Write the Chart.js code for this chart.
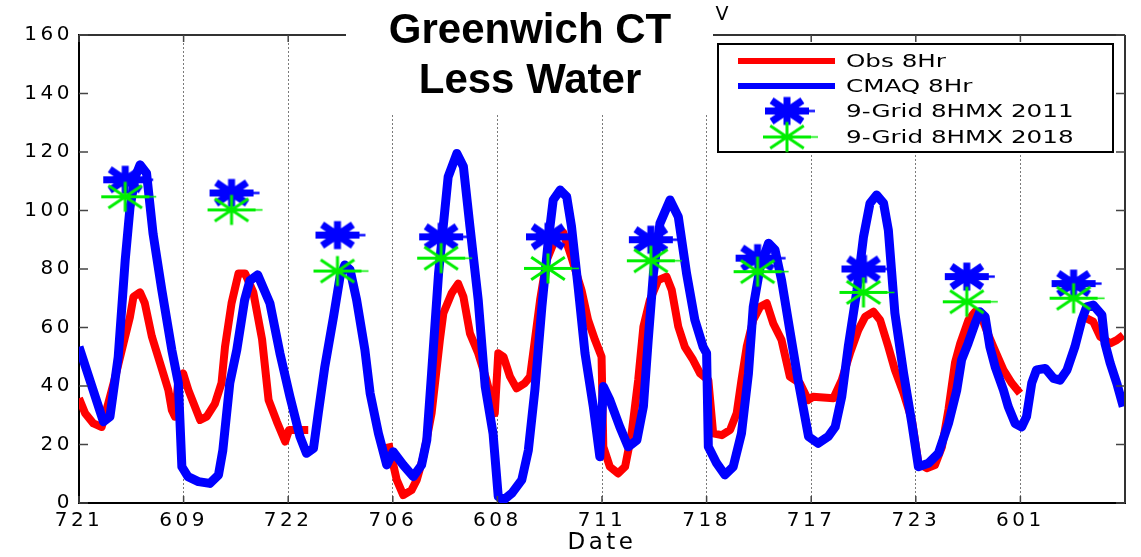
<!DOCTYPE html>
<html>
<head>
<meta charset="utf-8">
<script src="https://cdn.jsdelivr.net/npm/chart.js@4"></script>
<style>
  body { margin: 0; background: #fff; }
  #chart { display: block; }
</style>
</head>
<body>
<canvas id="chart" width="1141" height="557"></canvas>
<script>
// day labels on the x axis (each day = 24 hours)
const dateLabels = ['721', '609', '722', '706', '608', '711', '718', '717', '723', '601'];

// observed 8-hr ozone (null = missing data)
const obsHours = [0, 1.4, 3.3, 5.2, 6.7, 8.3, 10.2, 11.7, 12.5, 14, 15.1, 16.7, 18.6, 20.5, 21.3, 22, 22.8, 23.9, 25.1, 27.8,
  29.3, 31.2, 32.7, 33.5, 35, 36.6, 38.1, 40, 42, 43.5, 45.4, 47.3, 48.2, 52.6, 53,
  71, 72.9, 74.4, 76.3, 77.5, 79, 80.9, 82.8, 83.6, 85.5, 87, 88.2, 89.7, 91.6, 93.5, 95.4, 96.2, 97.4, 98.9,
  100.4, 102.3, 103.5, 104.6, 105.8, 107.3, 109.2, 111.1, 113, 115.3, 116.8, 118.4, 119.9, 120.3, 121.8, 123.7,
  125.3, 126.8, 128.3, 129.5, 131, 132.9, 134.8, 136, 137.5, 139, 140.9, 142.5, 144.4, 145.5, 147.5, 149.4,
  150.9, 152, 153.2, 154.7, 156.3, 157.8, 159.3, 161.2, 163.1, 165.4, 167.3, 168.4, 173.1, 175, 176.9, 178.8,
  180.4, 182.3, 183.8, 185.7, 187.2, 189.2, 191.1, 192.6, 194.5, 196.4, 198, 199.5, 201, 202.2, 204.1, 205.6,
  207, 208.5, 209.8, 212.1, 214, 215.9, 216.5,
  231.2, 232.7, 234.3, 236.6, 238.1, 239.6];
const obsValues = [35.8, 30.7, 27.2, 26, 34, 43, 54.6, 63.7, 70.5, 72, 68.3, 57, 47.8, 38.6, 31.8, 29.5, 42, 44.3, 38.6, 28.4,
  29.5, 34, 41, 53.4, 68.3, 78.5, 78.5, 72, 56, 35.2, 27.8, 21, 25, 25, null,
  20.4, 7.9, 2.7, 4.4, 7.9, 15.8, 30.7, 55.7, 64.9, 71.7, 75, 70.5, 58, 51.2, 42, 30.7, 51.2, 50, 43.2,
  39.2, 41, 43.2, 55.7, 69.4, 83, 90, 92.5, 84, 72.8, 62.6, 55.7, 50, 19.2, 12.4, 10.1,
  12.4, 23.8, 42, 60.3, 69.4, 76.2, 77.4, 72.8, 60.3, 53.4, 48.9, 44.3, 42, 23.8, 23.2, 25,
  30.7, 42, 53.4, 62.6, 67.1, 68.3, 61.4, 55.7, 43.2, 41, 35.2, 36.3, 35.8, 42, 51.2, 59.1,
  63.7, 65.4, 62.6, 53.4, 45.5, 37.5, 28.4, 13.6, 11.9, 13, 19.2, 32, 48, 54.6, 62.6, 65.4,
  64, 58, 53.4, 45.5, 41, 37.5, null,
  63.1, 62, 56.9, 54.6, 55.7, 57.4];

// CMAQ modelled 8-hr ozone
const cmaqHours = [0, 5.6, 7.1, 9, 10.6, 11.7, 12.9, 14, 15.5, 17, 19, 21.3, 22.8, 23.6, 25, 27.4, 30, 32, 33, 34.6,
  36.2, 38, 39.2, 41, 43.8, 46.1, 48.4, 50.7, 52.2, 53.8, 54.9, 56.4, 58.4, 59.9, 61, 62.2, 63.7, 65.6, 66.8, 68.7,
  70.6, 72.1, 74.4, 76.7, 78.6, 79.8, 80.9, 82.5, 84.7, 86.7, 88.2, 89.7, 91.6, 93.2, 95, 96.2, 97.4, 99.3, 101.6, 103.1,
  104.6, 106.2, 107.7, 108.8, 110.4, 111.9, 113, 114.6, 116.1, 118, 119.5, 120.3, 121.8, 124.1, 126, 128, 129.5, 130.6,
  131.8, 133.3, 135.6, 137.5, 139.4, 141.3, 143.2, 144, 144.4, 146.3, 148.2, 150.1, 152, 153.6, 154.7, 156.3, 158.2,
  159.7, 161.2, 163.1, 165, 167.4, 169.6, 171.9, 173.5, 175, 176.5, 178.5, 180, 181.5, 183, 184.6, 185.7, 187.2,
  189.2, 191.1, 192.6, 194.9, 197.2, 199.5, 201.4, 202.5, 204, 205.6, 206.7, 207.9, 209, 210.2, 212.1, 213.2, 214.8,
  216.3, 217.4, 218.6, 219.7, 221.7, 223.6, 225.1, 226.7, 228.5, 230.1, 231.2, 232.7, 234.7, 235.4, 236.6, 238.1, 239.6];
const cmaqValues = [53.4, 27.8, 29.5, 50, 83, 101, 111.5, 115.6, 112.7, 92, 72.8, 52.3, 41, 12.4, 9, 7.3, 6.7, 9.6, 18, 41,
  52.3, 69.4, 76, 78, 68.3, 51.2, 36.3, 22.7, 17, 18.7, 30.7, 46.6, 63.7, 77.4, 81.4, 79.7, 69.4, 52.3, 37.5, 23.8,
  13, 17.5, 13, 9, 13, 21.5, 44.3, 78.5, 111.5, 119.5, 115, 94.5, 69.4, 39.8, 23.8, 2.2, 1, 3.3, 7.9, 18,
  38.6, 67, 90, 103.6, 107, 104.7, 94.5, 72.8, 51.2, 33, 15.8, 39.8, 35.2, 26, 19.2, 21.5, 33, 55.7,
  78.5, 95.6, 103.6, 97.9, 78.5, 62.6, 53.4, 51.2, 19.2, 13.6, 9.6, 12.4, 23.8, 44.3, 67, 80.8, 88.8,
  86.5, 76.2, 59, 42, 22.7, 20.4, 22.7, 26, 36.3, 53.4, 72.8, 91, 102.5, 105.3, 102.5, 93.3, 64.9,
  44.3, 27.2, 12.4, 13.6, 17, 27.2, 38.6, 48.9, 54.6, 61.4, 65.4, 63.7, 53.4, 46.6, 38.6, 33, 27.2,
  26, 29.5, 41, 45.5, 46, 42.6, 42, 45.5, 53.4, 62.6, 67.1, 67.7, 64.3, 54.6, 47.8, 41, 33];

// daily 9-grid 8-hr max values
const markerHours = [10.6, 35, 59.3, 83.1, 107.6, 131.2, 155.7, 180, 203.7, 228.2];
const grid2011 = [110.5, 106, 91.6, 91, 91, 90, 83.7, 80, 77.4, 75];
const grid2018 = [104.7, 100.2, 79.3, 83.7, 80.2, 82.8, 79.1, 72, 68.8, 70];

const toPoints = (xs, ys) => xs.map((x, i) => ({ x: x, y: ys[i] }));

// MATLAB-like asterisk marker drawn on a small canvas
function makeStar(color, halfW, halfH, lw, tail) {
  const c = document.createElement('canvas');
  c.width = 2 * (halfW + tail) + 2;
  c.height = 2 * halfH + lw + 2;
  const g = c.getContext('2d');
  g.translate(c.width / 2, c.height / 2);
  g.strokeStyle = color;
  g.lineWidth = lw;
  g.beginPath();
  g.moveTo(-halfW, 0); g.lineTo(halfW, 0);
  g.moveTo(0, -halfH); g.lineTo(0, halfH);
  g.moveTo(-0.7 * halfW, -0.75 * halfH); g.lineTo(0.7 * halfW, 0.75 * halfH);
  g.moveTo(-0.7 * halfW, 0.75 * halfH); g.lineTo(0.7 * halfW, -0.75 * halfH);
  g.stroke();
  g.lineWidth = Math.max(1.5, lw / 3);
  g.beginPath();
  g.moveTo(halfW, 0); g.lineTo(halfW + tail, 0);
  g.stroke();
  return c;
}
const blueStar = makeStar('#0000ff', 22, 14, 7, 6);
const greenStar = makeStar('#00ee00', 24, 15, 3, 7);

const stretchText = (ctx, text, x, y, sx) => {
  ctx.save();
  ctx.translate(x, y);
  ctx.scale(sx, 1);
  ctx.fillText(text, 0, 0);
  ctx.restore();
};

const decorations = {
  id: 'decorations',
  beforeDraw(chart) {
    chart.ctx.letterSpacing = '3.5px';
  },
  beforeDatasetsDraw(chart) {
    chart.ctx.letterSpacing = '0px';
  },
  afterDraw(chart) {
    const ctx = chart.ctx;
    const a = chart.chartArea;
    const xs = chart.scales.x, ys = chart.scales.y;
    ctx.save();
    ctx.letterSpacing = '0px';

    // top and right box edges
    ctx.strokeStyle = '#333';
    ctx.lineWidth = 2;
    ctx.beginPath();
    ctx.moveTo(a.left, a.top); ctx.lineTo(a.right, a.top);
    ctx.moveTo(a.right, a.top); ctx.lineTo(a.right, a.bottom);
    ctx.stroke();

    // inward tick marks
    ctx.lineWidth = 1.5;
    ctx.strokeStyle = '#444';
    ctx.beginPath();
    ys.ticks.forEach(t => {
      const y = ys.getPixelForValue(t.value);
      ctx.moveTo(a.left, y); ctx.lineTo(a.left + 9, y);
      ctx.moveTo(a.right, y); ctx.lineTo(a.right - 9, y);
    });
    xs.ticks.forEach(t => {
      const x = xs.getPixelForValue(t.value);
      ctx.moveTo(x, a.bottom); ctx.lineTo(x, a.bottom - 7);
      ctx.moveTo(x, a.top); ctx.lineTo(x, a.top + 7);
    });
    ctx.stroke();

    // title block pasted over the plot
    ctx.fillStyle = '#fff';
    ctx.fillRect(346, 0, 367, 113);
    ctx.fillStyle = '#000';
    ctx.font = 'bold 42px "Liberation Sans", Arial, sans-serif';
    ctx.textAlign = 'center';
    ctx.textBaseline = 'alphabetic';
    ctx.fillText('Greenwich CT', 530, 43);
    ctx.fillText('Less Water', 530, 93);
    ctx.font = '19px "DejaVu Sans", sans-serif';
    ctx.fillText('V', 722, 20);

    // legend
    const lx = 718, ly = 44, lw = 395, lh = 108;
    ctx.fillStyle = '#fff';
    ctx.fillRect(lx, ly, lw, lh);
    ctx.strokeStyle = '#000';
    ctx.lineWidth = 2;
    ctx.strokeRect(lx, ly, lw, lh);
    const rows = [
      { text: 'Obs 8Hr', line: '#ff0000', y: 61 },
      { text: 'CMAQ 8Hr', line: '#0000ff', y: 86 },
      { text: '9-Grid 8HMX 2011', star: blueStar, y: 111 },
      { text: '9-Grid 8HMX 2018', star: greenStar, y: 137 }
    ];
    ctx.font = '18.5px "DejaVu Sans", sans-serif';
    ctx.textAlign = 'left';
    ctx.textBaseline = 'middle';
    rows.forEach(r => {
      if (r.line) {
        ctx.strokeStyle = r.line;
        ctx.lineWidth = 6;
        ctx.beginPath();
        ctx.moveTo(738, r.y); ctx.lineTo(835, r.y);
        ctx.stroke();
      } else {
        ctx.drawImage(r.star, 787 - r.star.width / 2, r.y - r.star.height / 2);
      }
      ctx.fillStyle = '#000';
      stretchText(ctx, r.text, 846, r.y + 1, 1.33);
    });
    ctx.restore();
  }
};

const tickFont = { family: '"DejaVu Sans", sans-serif', size: 20 };

new Chart(document.getElementById('chart'), {
  type: 'line',
  data: {
    datasets: [
      {
        label: '9-Grid 8HMX 2018',
        data: toPoints(markerHours, grid2018),
        showLine: false,
        pointStyle: greenStar,
        pointRadius: 12,
        borderColor: '#00ee00',
        backgroundColor: '#00ee00'
      },
      {
        label: '9-Grid 8HMX 2011',
        data: toPoints(markerHours, grid2011),
        showLine: false,
        pointStyle: blueStar,
        pointRadius: 12,
        borderColor: '#0000ff',
        backgroundColor: '#0000ff'
      },
      {
        label: 'CMAQ 8Hr',
        data: toPoints(cmaqHours, cmaqValues),
        borderColor: '#0000ff',
        borderWidth: 9,
        pointRadius: 0,
        tension: 0,
        borderJoinStyle: 'round'
      },
      {
        label: 'Obs 8Hr',
        data: toPoints(obsHours, obsValues),
        borderColor: '#ff0000',
        borderWidth: 8,
        pointRadius: 0,
        tension: 0,
        spanGaps: false,
        borderJoinStyle: 'round'
      }
    ]
  },
  options: {
    responsive: false,
    animation: false,
    devicePixelRatio: 1,
    layout: { padding: { top: 35, right: 16, left: 0, bottom: 0 } },
    plugins: {
      legend: { display: false },
      title: { display: false },
      tooltip: { enabled: false }
    },
    scales: {
      x: {
        type: 'linear',
        min: 0,
        max: 240,
        afterBuildTicks: (scale) => {
          scale.ticks = dateLabels.map((d, i) => ({ value: i * 24 }));
        },
        afterFit: (scale) => { scale.height = 54; },
        ticks: {
          font: tickFont,
          color: '#000',
          padding: 6,
          maxRotation: 0,
          autoSkip: false,
          callback: (v) => dateLabels[Math.round(v / 24)]
        },
        grid: { color: '#7a7a7a', lineWidth: 1, drawTicks: false },
        border: { color: '#000', width: 2, dash: [2, 2] },
        title: {
          display: true,
          text: 'Date',
          color: '#000',
          font: { family: '"DejaVu Sans", sans-serif', size: 23 },
          padding: { top: 0, bottom: 0 }
        }
      },
      y: {
        min: 0,
        max: 160,
        afterFit: (scale) => { scale.width = 79; },
        ticks: { stepSize: 20, font: tickFont, color: '#000', padding: 6 },
        grid: { display: false, drawTicks: false },
        border: { color: '#000', width: 2 }
      }
    }
  },
  plugins: [decorations]
});
</script>
</body>
</html>
